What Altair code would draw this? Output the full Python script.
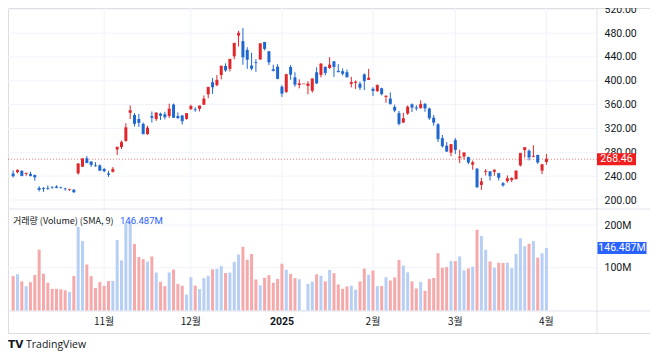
import altair as alt
import pandas as pd

# ---------------- data (daily candles) ----------------
opens = [244.48, 246.69, 249.00, 243.56, 243.82, 241.81, 220.13, 220.13, 220.01, 221.40,
         222.62, 220.71, 218.90, 217.31, 217.13, 244.68, 256.01, 270.00, 264.51, 258.04,
         257.99, 252.04, 244.56, 247.34, 284.67, 288.89, 299.14, 346.30, 342.74, 335.85,
         327.69, 310.57, 340.73, 335.76, 345.00, 343.81, 341.09, 360.14, 341.00, 341.80,
         336.08, 352.38, 351.80, 353.00, 359.87, 377.42, 397.61, 392.68, 409.70, 424.84,
         420.00, 441.09, 475.90, 466.50, 451.88, 425.51, 431.00, 435.90, 465.16, 449.52,
         419.40, 423.79, 390.10, 381.48, 423.20, 405.83, 392.95, 394.94, 391.40, 383.21,
         414.34, 409.90, 423.49, 421.50, 432.64, 416.81, 416.06, 414.45, 394.80, 396.91,
         395.21, 410.78, 401.53, 386.68, 382.63, 387.51, 373.03, 370.19, 356.21, 345.80,
         329.94, 345.00, 360.62, 355.01, 354.00, 361.51, 353.44, 338.14, 327.02, 303.71,
         291.16, 279.50, 300.34, 270.93, 272.92, 272.06, 259.32, 252.54, 225.31, 247.22,
         248.13, 247.31, 245.06, 228.16, 231.61, 233.35, 234.99, 258.08, 283.60, 282.66,
         272.48, 275.58, 249.31, 263.80]
highs = [249.79, 250.96, 249.83, 246.21, 247.43, 242.79, 223.34, 221.91, 224.26, 222.82,
         224.70, 222.28, 220.48, 218.22, 218.72, 262.12, 269.49, 273.54, 264.98, 263.35,
         259.75, 254.00, 248.90, 255.28, 289.59, 299.75, 328.71, 358.64, 345.84, 344.60,
         329.98, 324.68, 348.55, 347.38, 346.60, 347.99, 361.53, 361.93, 346.96, 342.55,
         345.45, 360.00, 355.69, 358.10, 375.43, 389.49, 404.80, 409.73, 424.88, 429.30,
         436.30, 463.19, 483.99, 488.54, 456.36, 447.08, 436.40, 462.78, 465.33, 450.00,
         427.00, 427.93, 392.73, 411.88, 426.43, 414.33, 402.50, 394.94, 399.28, 403.79,
         422.64, 429.80, 424.00, 439.74, 433.20, 428.00, 420.73, 418.88, 406.69, 400.59,
         398.59, 412.50, 419.99, 389.17, 394.00, 388.39, 375.40, 380.55, 360.00, 349.37,
         346.40, 358.69, 362.00, 359.10, 367.34, 362.30, 354.98, 342.40, 328.89, 309.00,
         297.23, 293.88, 303.94, 284.35, 279.55, 272.65, 266.25, 253.37, 237.06, 251.84,
         248.29, 251.58, 245.40, 230.10, 241.41, 238.00, 249.52, 278.64, 288.20, 284.90,
         291.85, 276.10, 260.56, 277.45]
lows = [237.81, 244.58, 240.70, 240.56, 239.51, 232.34, 214.38, 213.74, 217.12, 218.93,
        219.82, 219.23, 215.73, 215.26, 212.11, 242.65, 255.32, 262.24, 255.51, 255.82,
        249.25, 246.63, 238.88, 246.21, 275.62, 285.52, 297.66, 336.00, 323.31, 322.50,
        310.37, 309.22, 330.01, 332.75, 334.30, 335.28, 337.70, 338.20, 335.66, 326.59,
        334.65, 351.15, 348.20, 348.60, 359.50, 370.80, 378.01, 390.85, 402.38, 415.00,
        415.71, 436.15, 457.51, 427.01, 420.02, 417.64, 415.18, 435.14, 451.02, 426.50,
        415.75, 402.54, 373.04, 379.45, 401.70, 390.00, 387.40, 394.94, 377.29, 380.07,
        394.54, 405.66, 409.13, 419.75, 406.31, 414.59, 408.95, 405.78, 389.00, 386.50,
        384.48, 384.41, 401.34, 374.36, 381.40, 375.53, 363.18, 360.34, 347.26, 325.10,
        329.12, 342.85, 347.50, 350.02, 353.67, 348.00, 334.42, 324.70, 297.25, 288.04,
        280.88, 273.60, 277.30, 261.84, 267.71, 260.02, 250.73, 220.00, 217.02, 241.10,
        232.60, 240.73, 232.80, 222.28, 229.20, 230.05, 234.55, 256.33, 271.28, 266.51,
        271.82, 260.57, 243.36, 259.25]
closes = [240.66, 250.08, 240.83, 244.50, 241.05, 238.77, 217.80, 219.16, 219.57, 221.33,
          220.89, 220.70, 218.85, 217.97, 213.65, 260.48, 269.19, 262.51, 259.52, 257.55,
          249.85, 248.98, 242.84, 251.44, 288.53, 296.91, 321.22, 350.00, 328.49, 330.24,
          311.18, 320.72, 338.74, 346.00, 342.03, 339.64, 352.56, 338.59, 338.23, 332.89,
          345.16, 357.09, 351.42, 357.93, 369.49, 389.22, 389.79, 400.99, 424.77, 418.10,
          436.23, 463.02, 479.86, 440.13, 436.17, 421.06, 430.60, 462.28, 454.13, 431.66,
          417.41, 403.84, 379.28, 410.44, 411.05, 394.36, 394.94, 394.94, 394.74, 403.31,
          396.36, 428.22, 413.82, 426.50, 424.07, 415.11, 412.38, 406.58, 397.15, 398.09,
          389.10, 400.28, 404.60, 383.68, 392.21, 378.17, 374.32, 361.62, 350.73, 328.50,
          336.51, 355.94, 355.84, 354.11, 360.56, 354.40, 337.80, 330.53, 302.80, 290.80,
          281.95, 292.98, 284.65, 272.04, 279.10, 263.45, 262.67, 222.15, 230.58, 248.09,
          240.68, 249.98, 238.01, 225.31, 235.86, 236.26, 248.71, 278.39, 288.14, 272.06,
          273.13, 263.55, 259.16, 268.46]
volumes_m = [80.7, 85.0, 68.1, 56.9, 66.3, 83.1, 142.6, 86.3, 64.8, 50.7,
             50.8, 49.7, 47.3, 43.5, 80.9, 196.0, 163.0, 107.7, 80.4, 53.0,
             66.6, 57.6, 68.9, 69.3, 165.2, 117.3, 204.8, 210.5, 155.7, 125.4,
             120.3, 114.6, 126.5, 88.9, 67.0, 57.0, 89.1, 95.9, 62.3, 57.9,
             37.2, 78.0, 58.3, 50.2, 75.7, 81.4, 96.4, 97.6, 104.0, 87.8,
             89.0, 114.1, 131.2, 149.3, 118.9, 132.3, 72.7, 59.0, 76.7, 82.7,
             64.9, 74.1, 109.7, 95.4, 85.5, 75.7, 73.0, 1.0, 62.3, 67.6,
             84.6, 81.4, 68.3, 95.0, 87.5, 60.9, 50.7, 56.4, 58.1, 48.9,
             68.0, 98.1, 83.6, 93.7, 57.0, 57.2, 77.9, 70.3, 77.5, 118.5,
             105.4, 89.4, 68.3, 51.6, 67.1, 46.0, 74.1, 76.1, 134.2, 100.1,
             101.7, 115.7, 115.5, 126.7, 94.0, 98.5, 102.4, 189.1, 174.9, 142.2,
             114.8, 100.2, 111.9, 111.5, 112.0, 99.0, 132.7, 169.1, 150.4, 156.3,
             162.6, 123.8, 134.0, 146.487]

price_ticks = [200, 240, 280, 320, 360, 400, 440, 480, 520]
volume_ticks_m = [100, 200]
month_pos = [21, 41, 62, 83, 102, 123]
month_labels = ["11월", "12월", "2025", "2월", "3월", "4월"]
month_bold = [False, False, True, False, False, False]
volume_title = "거래량 (Volume) (SMA, 9)"

# ---------------- styling ----------------
UP = "#E0262B"
DOWN = "#1F67D0"
VOL_UP = "#B7CEF5"
VOL_DOWN = "#F6A9AA"
LABEL_RED = "#F01E1E"
LABEL_BLUE = "#2962FF"
TEXT = "#131722"
GRID = "#F0F3FA"
FRAME = "#E0E3EB"
NUM_FONT = "Roboto"
KR_FONT = "Noto Sans CJK KR"

n = len(closes)
df = pd.DataFrame({
    "i": list(range(n)),
    "open": opens, "high": highs, "low": lows, "close": closes,
    "vol": [v * 1e6 for v in volumes_m],
})
df["ccol"] = [UP if c >= o else DOWN for o, c in zip(opens, closes)]
df["vcol"] = [VOL_UP if c >= o else VOL_DOWN for o, c in zip(opens, closes)]

last_df = pd.DataFrame({"close": [closes[-1]], "label": [f"{closes[-1]:.2f}"]})
lastvol_df = pd.DataFrame({"vol": [volumes_m[-1] * 1e6], "label": [f"{volumes_m[-1]:.3f}M"]})
ptick_df = pd.DataFrame({"p": price_ticks})
vtick_df = pd.DataFrame({"vol": [v * 1e6 for v in volume_ticks_m]})
month_df = pd.DataFrame({"i": month_pos, "label": month_labels, "bold": month_bold})
one = pd.DataFrame({"a": [0]})

# scales (pixel ranges inside the 642 x 325 view)
xs = alt.Scale(domain=[0, n - 1], range=[0.13, 543.4], nice=False, zero=False)
py = alt.Scale(domain=[200, 520], range=[192, 1.3], nice=False, zero=False)
vy = alt.Scale(domain=[0, 200e6], range=[302.5, 217.1], nice=False, zero=True)

X = alt.X("i:Q", scale=xs, axis=None)

price_axis = alt.Axis(orient="right", offset=-53, values=price_ticks, format=".2f",
                      grid=False, domain=False, ticks=False, labelPadding=7,
                      labelAlign="left", labelBaseline="middle", labelFont=NUM_FONT,
                      labelFontSize=10.5, labelColor=TEXT, title=None,
                      labelOverlap=False, labelFlush=False, labelBound=False)
vol_axis = alt.Axis(orient="right", offset=-53, values=[v * 1e6 for v in volume_ticks_m],
                    labelExpr="format(datum.value / 1000000, 'd') + 'M'",
                    grid=False, domain=False, ticks=False, labelPadding=7,
                    labelAlign="left", labelBaseline="middle", labelFont=NUM_FONT,
                    labelFontSize=10.5, labelColor=TEXT, title=None,
                    labelOverlap=False, labelFlush=False, labelBound=False)

pgrid = alt.Chart(ptick_df).mark_rule(color=GRID, strokeWidth=1).encode(
    y=alt.Y("p:Q", scale=py, axis=None), x=alt.value(0), x2=alt.value(589))
vgrid = alt.Chart(vtick_df).mark_rule(color=GRID, strokeWidth=1).encode(
    y=alt.Y("vol:Q", scale=vy, axis=None), x=alt.value(0), x2=alt.value(589))
mgrid = alt.Chart(month_df).mark_rule(color=GRID, strokeWidth=1).encode(
    x=X, y=alt.value(0), y2=alt.value(303))

sep1 = alt.Chart(one).mark_rule(color=FRAME, strokeWidth=1).encode(
    x=alt.value(0), x2=alt.value(642), y=alt.value(201))
sep2 = alt.Chart(one).mark_rule(color=FRAME, strokeWidth=1).encode(
    x=alt.value(0), x2=alt.value(642), y=alt.value(303))
sep3 = alt.Chart(one).mark_rule(color=FRAME, strokeWidth=1).encode(
    x=alt.value(589), y=alt.value(0), y2=alt.value(325))

lastline = alt.Chart(last_df).mark_rule(color=LABEL_RED, strokeWidth=1, strokeDash=[1, 2],
                                        opacity=0.6).encode(
    y=alt.Y("close:Q", scale=py, axis=None), x=alt.value(0), x2=alt.value(589))

wick = alt.Chart(df).mark_rule(strokeWidth=1, clip=True).encode(
    x=X, y=alt.Y("low:Q", scale=py, axis=None), y2="high:Q",
    color=alt.Color("ccol:N", scale=None))
body = alt.Chart(df).mark_bar(size=3, clip=True).encode(
    x=X, y=alt.Y("open:Q", scale=py, axis=price_axis), y2="close:Q",
    color=alt.Color("ccol:N", scale=None))
flat = alt.Chart(df).mark_tick(orient="horizontal", size=3, thickness=1, clip=True).encode(
    x=X, y=alt.Y("close:Q", scale=py, axis=None),
    color=alt.Color("ccol:N", scale=None))

vbars = alt.Chart(df).mark_bar(size=3, clip=True).encode(
    x=X, y=alt.Y("vol:Q", scale=vy, axis=vol_axis),
    color=alt.Color("vcol:N", scale=None))

redbox = alt.Chart(last_df).mark_tick(orient="horizontal", size=39, thickness=12,
                                      color=LABEL_RED, opacity=1).encode(
    x=alt.value(608.5), y=alt.Y("close:Q", scale=py, axis=None))
redtxt = alt.Chart(last_df).mark_text(color="white", font=NUM_FONT, fontSize=10.5,
                                      align="center", baseline="middle").encode(
    x=alt.value(608.5), y=alt.Y("close:Q", scale=py, axis=None), text="label:N")
bluebox = alt.Chart(lastvol_df).mark_tick(orient="horizontal", size=49, thickness=12,
                                          color=LABEL_BLUE, opacity=1).encode(
    x=alt.value(614), y=alt.Y("vol:Q", scale=vy, axis=None))
bluetxt = alt.Chart(lastvol_df).mark_text(color="white", font=NUM_FONT, fontSize=10.5,
                                          align="center", baseline="middle").encode(
    x=alt.value(614), y=alt.Y("vol:Q", scale=vy, axis=None), text="label:N")

head = alt.Chart(pd.DataFrame({"t": [volume_title]})).mark_text(
    font=KR_FONT, fontSize=9, color=TEXT, align="left", baseline="middle").encode(
    x=alt.value(5), y=alt.value(213), text="t:N")
headval = alt.Chart(lastvol_df).mark_text(
    font=NUM_FONT, fontSize=9.5, color=LABEL_BLUE, align="left", baseline="middle").encode(
    x=alt.value(112), y=alt.value(213), text="label:N")

mlab = alt.Chart(month_df).transform_filter("!datum.bold").mark_text(
    font=KR_FONT, fontSize=10, color=TEXT, align="center", baseline="middle").encode(
    x=X, y=alt.value(314), text="label:N")
mlab_b = alt.Chart(month_df).transform_filter("datum.bold").mark_text(
    font=NUM_FONT, fontSize=10.5, fontWeight="bold", color=TEXT, align="center",
    baseline="middle").encode(x=X, y=alt.value(314), text="label:N")

logo = alt.Chart(pd.DataFrame({"t": ["TV"]})).mark_text(
    font="DejaVu Sans", fontSize=10.5, fontWeight="bold", color=TEXT, align="left",
    baseline="middle").encode(x=alt.value(0), y=alt.value(337), text="t:N")
brand = alt.Chart(pd.DataFrame({"t": ["TradingView"]})).mark_text(
    font="Open Sans", fontSize=10.5, color=TEXT, align="left",
    baseline="middle").encode(x=alt.value(18), y=alt.value(337), text="t:N")

chart = alt.layer(
    pgrid, vgrid, mgrid, sep1, sep2, sep3, lastline,
    vbars, wick, body, flat,
    redbox, redtxt, bluebox, bluetxt, head, headval, mlab, mlab_b, logo, brand,
).resolve_scale(y="independent").properties(
    width=642, height=325,
    autosize=alt.AutoSizeParams(type="none"),
    padding={"left": 0, "top": 0, "right": 0, "bottom": 22},
).configure_view(stroke=FRAME, strokeWidth=1).configure(background="white")

chart.save("out.html", embed_options={"renderer": "svg", "actions": False})
